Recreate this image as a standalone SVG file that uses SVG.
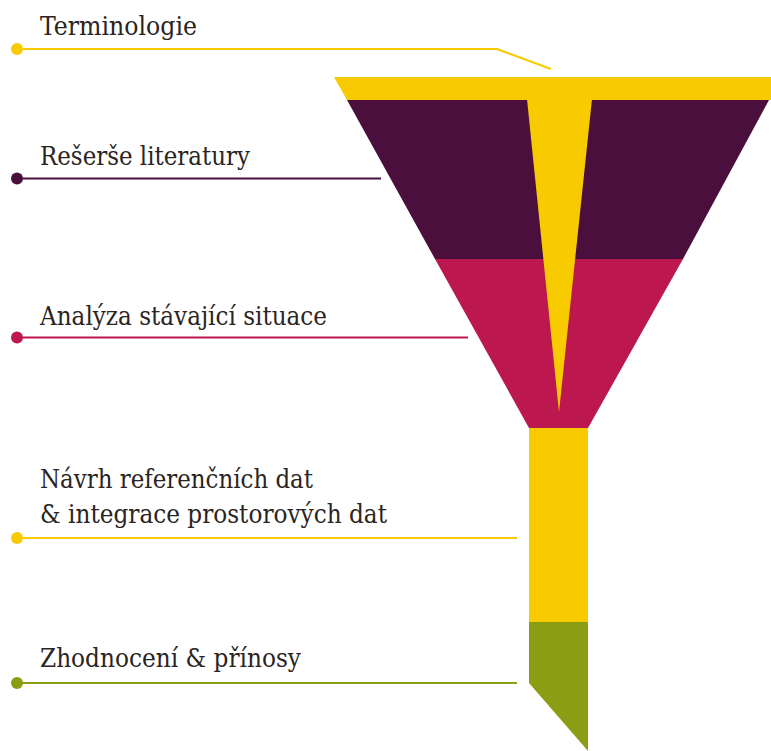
<svg xmlns="http://www.w3.org/2000/svg" width="771" height="751" viewBox="0 0 771 751">
  <style>
    .label { font-family: "DejaVu Serif Condensed", "DejaVu Serif", "Liberation Serif", serif; font-stretch: condensed; font-size: 26px; fill: #2a2422; }
    .lead { fill: none; stroke-width: 2.2; stroke-linejoin: round; }
    .yellow { fill: #F7CB00; }
    .purple { fill: #4B0F3E; }
    .crimson { fill: #BC174F; }
    .green { fill: #8B9D12; }
  </style>
  <rect width="771" height="751" fill="#ffffff"/>

  <!-- Funnel stages -->
  <g id="funnel">
    <g id="stage-terminologie">
      <polygon class="yellow" points="334,77 771,77 771,100 347,100"/>
    </g>
    <g id="stage-reserse">
      <polygon class="purple" points="347,100 769,100 683,259 435,259"/>
    </g>
    <g id="stage-analyza">
      <polygon class="crimson" points="435,259 683,259 588,428 529,428"/>
    </g>
    <!-- vertical spike of the top band running down through the funnel -->
    <polygon class="yellow" points="527,99 592,99 559,412"/>
    <g id="stage-navrh">
      <rect class="yellow" x="529" y="428" width="59" height="194"/>
    </g>
    <g id="stage-zhodnoceni">
      <polygon class="green" points="529,622 588,622 588,751 529,683"/>
    </g>
  </g>

  <!-- Leader lines with end dots -->
  <g id="connectors">
    <polyline class="lead" stroke="#F7CB00" points="17,49 497,49 551,69"/>
    <circle cx="17" cy="49" r="6" fill="#F7CB00"/>
    <line class="lead" stroke="#4B0F3E" x1="17" y1="178.5" x2="381" y2="178.5"/>
    <circle cx="17" cy="178.5" r="6" fill="#4B0F3E"/>
    <line class="lead" stroke="#BC174F" x1="17" y1="337.5" x2="468" y2="337.5"/>
    <circle cx="17" cy="337.5" r="6" fill="#BC174F"/>
    <line class="lead" stroke="#F7CB00" x1="17" y1="538" x2="517" y2="538"/>
    <circle cx="17" cy="538" r="6" fill="#F7CB00"/>
    <line class="lead" stroke="#8B9D12" x1="17" y1="683" x2="517" y2="683"/>
    <circle cx="17" cy="683" r="6" fill="#8B9D12"/>
  </g>

  <!-- Stage labels -->
  <g id="label-terminologie">
    <text class="label" x="40" y="35" textLength="157" lengthAdjust="spacingAndGlyphs">Terminologie</text>
  </g>
  <g id="label-reserse">
    <text class="label" x="40" y="165" textLength="210" lengthAdjust="spacingAndGlyphs">Rešerše literatury</text>
  </g>
  <g id="label-analyza">
    <text class="label" x="40" y="325" textLength="287" lengthAdjust="spacingAndGlyphs">Analýza stávající situace</text>
  </g>
  <g id="label-navrh">
    <text class="label" x="40" y="488" textLength="273" lengthAdjust="spacingAndGlyphs">Návrh referenčních dat</text>
    <text class="label" x="40" y="523" textLength="347" lengthAdjust="spacingAndGlyphs">&amp; integrace prostorových dat</text>
  </g>
  <g id="label-zhodnoceni">
    <text class="label" x="40" y="667" textLength="261" lengthAdjust="spacingAndGlyphs">Zhodnocení &amp; přínosy</text>
  </g>
</svg>
